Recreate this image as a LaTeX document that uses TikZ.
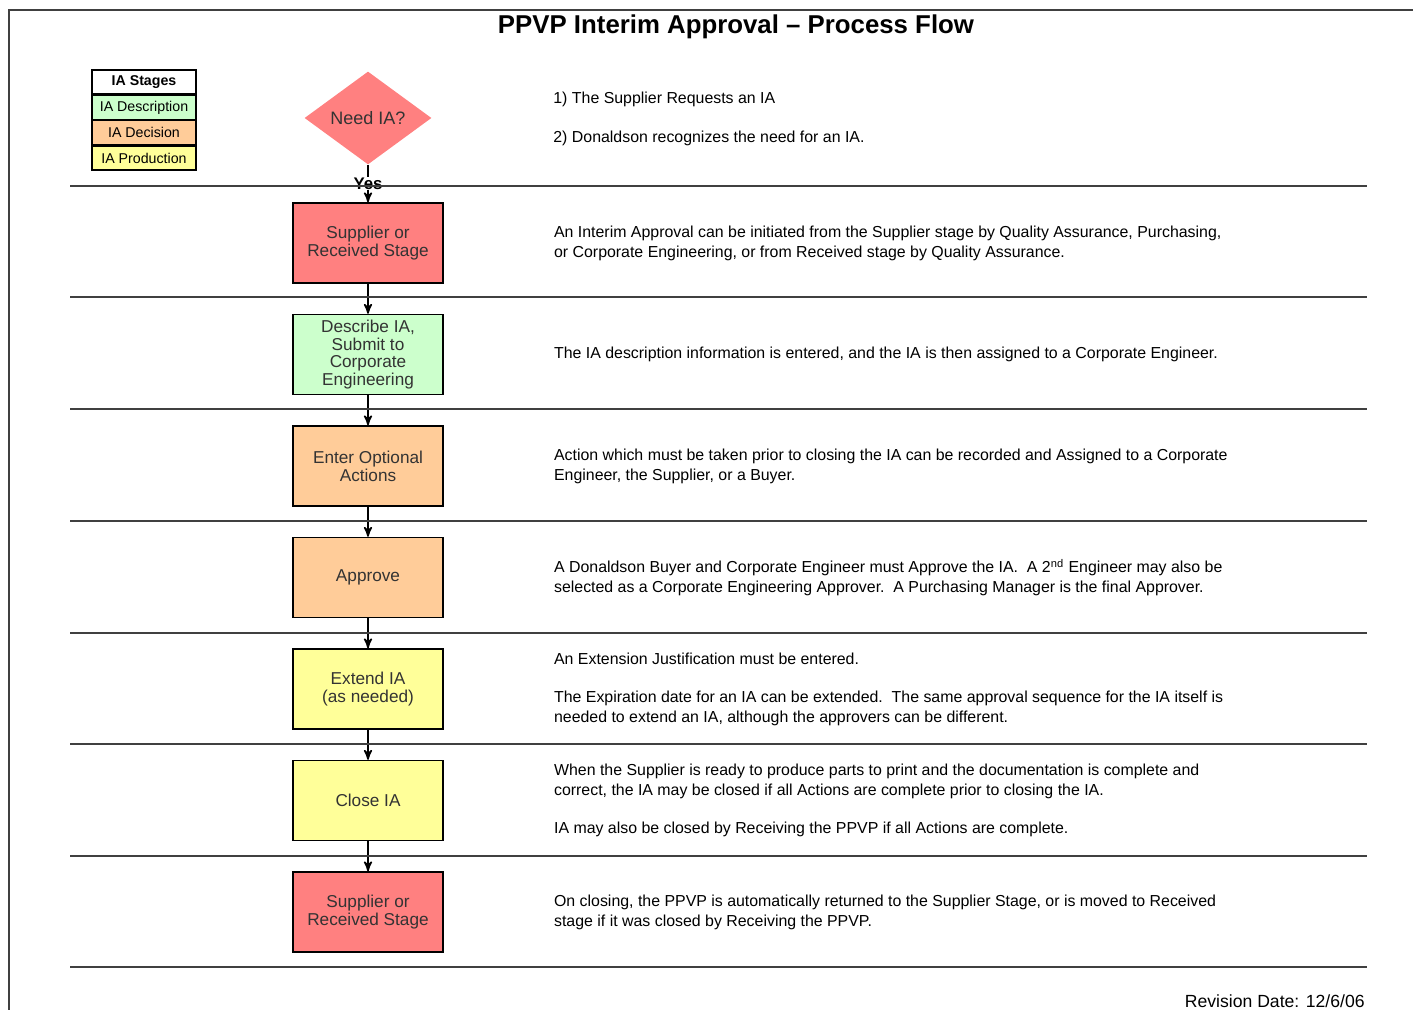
\documentclass[tikz,border=0pt]{standalone}
\usepackage{fontspec}
\setmainfont{Liberation Sans}
\usetikzlibrary{arrows}
\usetikzlibrary{shapes.geometric}
\usetikzlibrary{positioning}

\definecolor{stagered}{HTML}{FF8080}
\definecolor{descgreen}{HTML}{CCFFCC}
\definecolor{decorange}{HTML}{FFCC99}
\definecolor{prodyellow}{HTML}{FFFF99}

\begin{document}
\begin{tikzpicture}[x=0.5pt,y=-0.5pt,
  stagebox/.style={draw=black, line width=0.7pt, minimum width=75pt, minimum height=40pt,
    inner sep=0pt, align=center, text=black!80, font=\fontsize{8.6}{8.9}\selectfont},
  legendcell/.style={draw=black, line width=0.7pt, minimum width=52pt, minimum height=12pt,
    inner sep=0pt, font=\fontsize{7.1}{8}\selectfont},
  desc/.style={anchor=west, align=left, inner sep=0pt, font=\fontsize{7.95}{10}\selectfont},
  flow/.style={black, thick, ->, >=stealth'}]
\useasboundingbox (0,0) rectangle (1413,1010);
\draw[black!75, line width=1pt] (9,1010) -- (9,10) -- (1413,10);

\node[font=\bfseries\fontsize{12.9}{14}\selectfont] (title) at (736,27) {PPVP Interim Approval -- Process Flow};

% legend
\node[legendcell, fill=white, font=\bfseries\fontsize{7.1}{8}\selectfont] (lgstages) at (144,82) {IA Stages};
\node[legendcell, fill=descgreen, below=0pt of lgstages] (lgdesc) {IA Description};
\node[legendcell, fill=decorange, below=0pt of lgdesc] (lgdec) {IA Decision};
\node[legendcell, fill=prodyellow, below=0pt of lgdec] (lgprod) {IA Production};

% flow
\node[diamond, fill=stagered, shape aspect=1.37, minimum width=63.5pt, minimum height=46.5pt,
  inner sep=0pt, text=black!80, font=\fontsize{9}{10}\selectfont] (need) at (368,118) {Need IA?};
\node[stagebox, fill=stagered] (b1) at (368,243) {Supplier or\\Received Stage};
\node[stagebox, fill=descgreen, below=15.05pt of b1] (b2) {Describe IA,\\Submit to\\Corporate\\Engineering};
\node[stagebox, fill=decorange, below=15.05pt of b2] (b3) {Enter Optional\\Actions};
\node[stagebox, fill=decorange, below=15.05pt of b3] (b4) {Approve};
\node[stagebox, fill=prodyellow, below=15.05pt of b4] (b5) {Extend IA\\(as needed)};
\node[stagebox, fill=prodyellow, below=15.05pt of b5] (b6) {Close IA};
\node[stagebox, fill=stagered, below=15.05pt of b6] (b7) {Supplier or\\Received Stage};

\draw[flow] (need.south) -- node[fill=white, inner sep=0.5pt, font=\bfseries\fontsize{8.4}{9}\selectfont] {Yes} (b1);
\foreach \a/\b in {b1/b2, b2/b3, b3/b4, b4/b5, b5/b6, b6/b7} {
  \draw[flow] (\a) -- (\b);
}

% separators
\foreach \y in {186, 297, 409, 521, 633, 744, 856, 967} {
  \draw[black!75, line width=0.9pt] (70,\y) -- (1367,\y);
}

% descriptions
\node[desc] (d0a) at (553,99) {1) The Supplier Requests an IA};
\node[desc] (d0b) at (553,138) {2) Donaldson recognizes the need for an IA.};
\node[desc, right=55pt of b1] (d1) {An Interim Approval can be initiated from the Supplier stage by Quality Assurance, Purchasing,\\
  or Corporate Engineering, or from Received stage by Quality Assurance.};
\node[desc, right=55pt of b2] (d2) {The IA description information is entered, and the IA is then assigned to a Corporate Engineer.};
\node[desc, right=55pt of b3] (d3) {Action which must be taken prior to closing the IA can be recorded and Assigned to a Corporate\\
  Engineer, the Supplier, or a Buyer.};
\node[desc, right=55pt of b4] (d4) {A Donaldson Buyer and Corporate Engineer must Approve the IA.\ \ A 2\textsuperscript{nd} Engineer may also be\\
  selected as a Corporate Engineering Approver.\ \ A Purchasing Manager is the final Approver.};
\node[desc, right=55pt of b5] (d5) {An Extension Justification must be entered.\\[9pt]
  The Expiration date for an IA can be extended.\ \ The same approval sequence for the IA itself is\\
  needed to extend an IA, although the approvers can be different.};
\node[desc, right=55pt of b6] (d6) {When the Supplier is ready to produce parts to print and the documentation is complete and\\
  correct, the IA may be closed if all Actions are complete prior to closing the IA.\\[9pt]
  IA may also be closed by Receiving the PPVP if all Actions are complete.};
\node[desc, right=55pt of b7] (d7) {On closing, the PPVP is automatically returned to the Supplier Stage, or is moved to Received\\
  stage if it was closed by Receiving the PPVP.};

\node[anchor=east, inner sep=0pt, font=\fontsize{8.8}{10}\selectfont] (rev) at (1365,1001) {Revision Date: 12/6/06};
\end{tikzpicture}
\end{document}
